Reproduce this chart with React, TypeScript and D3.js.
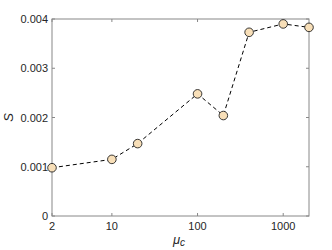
import React from 'react';
import * as d3 from 'd3';

const muC = [2, 10, 20, 100, 200, 400, 1000, 2000];
const sValues = [0.00098, 0.00115, 0.00147, 0.00248, 0.00204, 0.00373, 0.0039, 0.00383];
const xTicks = [2, 10, 100, 1000];
const yTicks = [0, 0.001, 0.002, 0.003, 0.004];

const App = () => {
  const width = 332;
  const height = 250;
  const margin = { top: 19, right: 23, bottom: 34, left: 52 };

  const xScale = d3.scaleLog().domain([2, 2000]).range([margin.left, width - margin.right]);
  const yScale = d3.scaleLinear().domain([0, 0.004]).range([height - margin.bottom, margin.top]);

  const line = d3
    .line<number>()
    .x((d, i) => xScale(muC[i]))
    .y((d) => yScale(d));

  const axisColor = '#888';
  const textColor = '#262626';
  const x0 = margin.left;
  const x1 = width - margin.right;
  const y0 = height - margin.bottom;
  const y1 = margin.top;
  const tickLen = 3;

  return (
    <svg
      width={width}
      height={height}
      style={{ position: 'absolute', left: 0, top: 0 }}
      fontFamily="Liberation Sans, Arial, sans-serif"
    >
      <rect x={0} y={0} width={width} height={height} fill="#fff" />
      {/* box */}
      <rect x={x0} y={y1} width={x1 - x0} height={y0 - y1} fill="none" stroke={axisColor} strokeWidth={1} />
      {/* x ticks */}
      {xTicks.map((t) => (
        <g key={'x' + t}>
          <line x1={xScale(t)} x2={xScale(t)} y1={y0} y2={y0 - tickLen} stroke={axisColor} />
          <line x1={xScale(t)} x2={xScale(t)} y1={y1} y2={y1 + tickLen} stroke={axisColor} />
          <text x={xScale(t)} y={y0 + 14} textAnchor="middle" fontSize={11} fill={textColor}>
            {t}
          </text>
        </g>
      ))}
      {/* y ticks */}
      {yTicks.map((t) => (
        <g key={'y' + t}>
          <line x1={x0} x2={x0 + tickLen} y1={yScale(t)} y2={yScale(t)} stroke={axisColor} />
          <line x1={x1} x2={x1 - tickLen} y1={yScale(t)} y2={yScale(t)} stroke={axisColor} />
          <text x={x0 - 4} y={yScale(t) + 4} textAnchor="end" fontSize={11} fill={textColor}>
            {t === 0 ? '0' : t.toFixed(3)}
          </text>
        </g>
      ))}
      {/* data line */}
      <path d={line(sValues) || ''} fill="none" stroke="#000" strokeWidth={1} strokeDasharray="4,3" />
      {sValues.map((v, i) => (
        <circle key={i} cx={xScale(muC[i])} cy={yScale(v)} r={4.3} fill="#f8dfb8" stroke="#222" strokeWidth={0.9} />
      ))}
      {/* axis labels */}
      <text
        x={179}
        y={244}
        textAnchor="middle"
        fontSize={13}
        fontStyle="italic"
        fill={textColor}
      >
        μ<tspan fontSize={10} dy={2}>c</tspan>
      </text>
      <text
        transform={`translate(13, ${(y0 + y1) / 2}) rotate(-90)`}
        textAnchor="middle"
        fontSize={13}
        fontStyle="italic"
        fill={textColor}
      >
        S
      </text>
    </svg>
  );
};

export default App;
